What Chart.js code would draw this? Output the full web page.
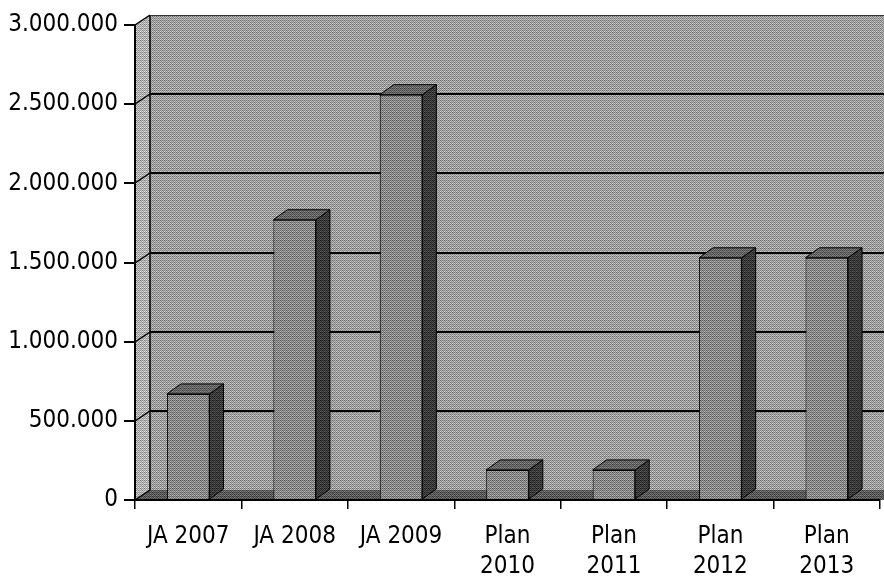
<!DOCTYPE html>
<html>
<head>
<meta charset="utf-8">
<script src="https://cdn.jsdelivr.net/npm/chart.js@4/dist/chart.umd.min.js"></script>
<style>
  html, body { margin: 0; padding: 0; background: #ffffff; }
  #wrap { width: 884px; height: 577px; }
</style>
</head>
<body>
<div id="wrap"><canvas id="c" width="884" height="577"></canvas></div>
<script>
// Categories and values
const categories = [['JA 2007'], ['JA 2008'], ['JA 2009'], ['Plan', '2010'], ['Plan', '2011'], ['Plan', '2012'], ['Plan', '2013']];
const values = [670000, 1770000, 2560000, 190000, 190000, 1530000, 1530000];
const yTicks = [0, 500000, 1000000, 1500000, 2000000, 2500000, 3000000];

const FONT = '"DejaVu Sans Condensed", "DejaVu Sans", sans-serif';
const DEPTH_X = 14, DEPTH_Y = 10;

function fmt(v) {
  return String(Math.round(v)).replace(/\B(?=(\d{3})+(?!\d))/g, '.');
}

// small ordered-dither tile giving a halftone-like grain around a base grey
function grain(base, amp) {
  const t = document.createElement('canvas');
  t.width = 4; t.height = 4;
  const g = t.getContext('2d');
  const m = [[0, 8, 2, 10], [12, 4, 14, 6], [3, 11, 1, 9], [15, 7, 13, 5]];
  for (let y = 0; y < 4; y++) {
    for (let x = 0; x < 4; x++) {
      const v = Math.max(0, Math.min(255, Math.round(base + (m[y][x] / 15 - 0.5) * 2 * amp)));
      g.fillStyle = `rgb(${v},${v},${v})`;
      g.fillRect(x, y, 1, 1);
    }
  }
  return document.getElementById('c').getContext('2d').createPattern(t, 'repeat');
}

const fills = {
  backWall: grain(158, 50),
  sideWall: grain(176, 50),
  floor: grain(90, 40),
  front: grain(136, 50),
  top: grain(100, 40),
  side: grain(58, 35)
};

// walls, floor and back-wall gridlines drawn behind everything
const walls = {
  id: 'walls',
  beforeDraw(chart) {
    const { ctx, chartArea: a, scales } = chart;
    const W = chart.width;
    const y = scales.y;
    ctx.save();
    // back wall
    ctx.fillStyle = fills.backWall;
    ctx.fillRect(a.left + DEPTH_X + 1, a.top - DEPTH_Y, W - a.left - DEPTH_X, a.bottom - a.top);
    // side wall
    ctx.beginPath();
    ctx.moveTo(a.left, a.top);
    ctx.lineTo(a.left + DEPTH_X + 1, a.top - DEPTH_Y);
    ctx.lineTo(a.left + DEPTH_X + 1, a.bottom - DEPTH_Y);
    ctx.lineTo(a.left, a.bottom);
    ctx.closePath();
    ctx.fillStyle = fills.sideWall;
    ctx.fill();
    // floor
    ctx.beginPath();
    ctx.moveTo(a.left, a.bottom);
    ctx.lineTo(a.left + DEPTH_X + 1, a.bottom - DEPTH_Y);
    ctx.lineTo(W, a.bottom - DEPTH_Y);
    ctx.lineTo(W, a.bottom);
    ctx.closePath();
    ctx.fillStyle = fills.floor;
    ctx.fill();
    // gridlines on the back wall plus their diagonals on the side wall
    ctx.strokeStyle = '#000';
    yTicks.forEach(t => {
      const py = Math.round(y.getPixelForValue(t));
      if (t > 0 && t < 3000000) {
        ctx.lineWidth = 2;
        ctx.beginPath();
        ctx.moveTo(a.left + DEPTH_X + 1, py - DEPTH_Y);
        ctx.lineTo(W, py - DEPTH_Y);
        ctx.stroke();
      }
      ctx.lineWidth = 1.5;
      ctx.beginPath();
      ctx.moveTo(a.left, py);
      ctx.lineTo(a.left + DEPTH_X + 1, py - DEPTH_Y);
      ctx.stroke();
    });
    // corner edge between side and back wall, and the wall top
    ctx.lineWidth = 1.5;
    ctx.beginPath();
    ctx.moveTo(a.left + DEPTH_X + 1, a.top - DEPTH_Y);
    ctx.lineTo(a.left + DEPTH_X + 1, a.bottom - DEPTH_Y);
    ctx.stroke();
    ctx.lineWidth = 1;
    ctx.strokeStyle = '#333';
    ctx.beginPath();
    ctx.moveTo(a.left + DEPTH_X + 1, a.top - DEPTH_Y + 0.5);
    ctx.lineTo(W, a.top - DEPTH_Y + 0.5);
    ctx.stroke();
    ctx.restore();
  }
};

// top and side faces of each column
const boxes = {
  id: 'boxes',
  afterDatasetsDraw(chart) {
    const { ctx } = chart;
    const meta = chart.getDatasetMeta(0);
    ctx.save();
    ctx.strokeStyle = '#000';
    ctx.lineWidth = 1;
    meta.data.forEach(bar => {
      const l = bar.x - bar.width / 2, r = bar.x + bar.width / 2;
      const t = bar.y, b = bar.base;
      // side face
      ctx.beginPath();
      ctx.moveTo(r, t);
      ctx.lineTo(r + DEPTH_X, t - DEPTH_Y);
      ctx.lineTo(r + DEPTH_X, b - DEPTH_Y);
      ctx.lineTo(r, b);
      ctx.closePath();
      ctx.fillStyle = fills.side;
      ctx.fill();
      ctx.stroke();
      // top face
      ctx.beginPath();
      ctx.moveTo(l, t);
      ctx.lineTo(l + DEPTH_X, t - DEPTH_Y);
      ctx.lineTo(r + DEPTH_X, t - DEPTH_Y);
      ctx.lineTo(r, t);
      ctx.closePath();
      ctx.fillStyle = fills.top;
      ctx.fill();
      ctx.stroke();
    });
    ctx.restore();
  }
};

new Chart(document.getElementById('c'), {
  type: 'bar',
  data: {
    labels: categories,
    datasets: [{
      data: values,
      backgroundColor: fills.front,
      borderColor: '#000',
      borderWidth: 1,
      barPercentage: 0.4,
      categoryPercentage: 1
    }]
  },
  options: {
    responsive: false,
    animation: false,
    devicePixelRatio: 1,
    layout: { padding: { top: 25, right: 4, left: 0, bottom: 0 } },
    plugins: { legend: { display: false }, tooltip: { enabled: false } },
    scales: {
      x: {
        afterFit: s => { s.height = 77; },
        grid: { display: true, drawOnChartArea: false, offset: true, tickLength: 9, color: '#000', lineWidth: 1.5 },
        border: { display: true, color: '#000', width: 2 },
        ticks: {
          color: '#000',
          font: { family: FONT, size: 24, lineHeight: 1.25 },
          padding: 13,
          maxRotation: 0,
          autoSkip: false
        }
      },
      y: {
        min: 0,
        max: 3000000,
        afterFit: s => { s.width = 135; },
        afterBuildTicks: s => { s.ticks = yTicks.map(v => ({ value: v })); },
        grid: { display: true, drawOnChartArea: false, tickLength: 11, color: '#000', lineWidth: 2 },
        border: { display: true, color: '#000', width: 2 },
        ticks: {
          color: '#000',
          font: { family: FONT, size: 24 },
          padding: 6,
          callback: v => fmt(v)
        }
      }
    }
  },
  plugins: [walls, boxes]
});
</script>
</body>
</html>
